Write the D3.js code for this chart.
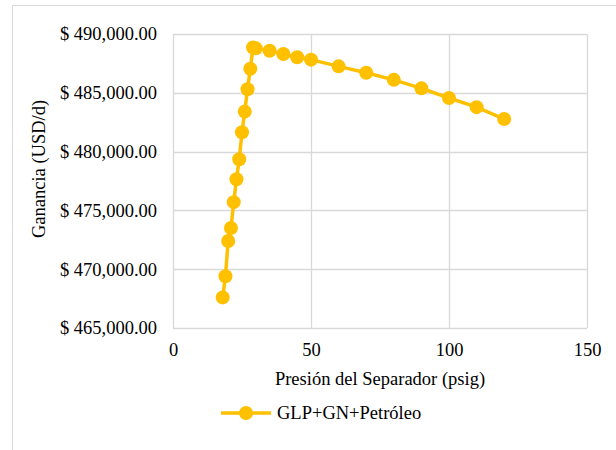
<!DOCTYPE html>
<html>
<head>
<meta charset="utf-8">
<script src="https://cdn.jsdelivr.net/npm/d3@7"></script>
<style>
  body { margin: 0; background: #fff; }
  svg { font-family: "Liberation Serif", "Times New Roman", serif; }
</style>
</head>
<body>
<svg width="616" height="450"></svg>
<script>
// data
const pressure = [18, 19, 20, 21, 22, 23, 24, 25, 26, 27, 28, 29, 30, 35, 40, 45, 50, 60, 70, 80, 90, 100, 110, 120]
const profit = [467600, 469400, 472400, 473500, 475700, 477650, 479350, 481650, 483400, 485300, 487050, 488850, 488780,
  488580, 488300, 488020, 487820, 487250, 486700, 486100, 485380, 484560, 483780, 482770]
const xTicks = [0, 50, 100, 150]
const yTicks = [465000, 470000, 475000, 480000, 485000, 490000]
const seriesName = "GLP+GN+Petróleo"

const svg = d3.select("svg")
const col = "#FFC000"
const grid = "#d9d9d9"

//chart border
svg.append("rect").attr("x", 12.5).attr("y", 5.5).attr("width", 620).attr("height", 460)
  .attr("fill", "none").attr("stroke", grid)

const L = 173, R = 587, T = 34, B = 328
const x = d3.scaleLinear().domain([0, 150]).range([L, R])
const y = d3.scaleLinear().domain([465000, 490000]).range([B, T])

//grid
let g = svg.append("g")
g.selectAll(".h").data(yTicks).enter().append("line")
  .attr("x1", L).attr("x2", R)
  .attr("y1", d => Math.round(y(d)) + .5).attr("y2", d => Math.round(y(d)) + .5)
  .attr("stroke", grid).attr("stroke-width", 1.3)
g.selectAll(".v").data(xTicks).enter().append("line")
  .attr("y1", T).attr("y2", B)
  .attr("x1", d => Math.round(x(d)) + .5).attr("x2", d => Math.round(x(d)) + .5)
  .attr("stroke", grid).attr("stroke-width", 1.3)

//axes (labels only, lines come from grid)
const fmt = d => "$ " + d3.format(",.2f")(d)
const yAxis = svg.append("g").attr("transform", `translate(${L},0)`)
  .call(d3.axisLeft(y).tickValues(yTicks).tickFormat(fmt).tickSize(0).tickPadding(16))
const xAxis = svg.append("g").attr("transform", `translate(0,${B})`)
  .call(d3.axisBottom(x).tickValues(xTicks).tickSize(0).tickPadding(15))
svg.selectAll(".domain").remove()
svg.selectAll(".tick text").attr("font-family", "Liberation Serif").attr("font-size", 18.5).attr("fill", "#000")

//titles
svg.append("text").attr("transform", "translate(45,169) rotate(-90)")
  .attr("text-anchor", "middle").attr("font-size", 18.5).text("Ganancia (USD/d)")
svg.append("text").attr("x", 380).attr("y", 385)
  .attr("text-anchor", "middle").attr("font-size", 18.5).text("Presión del Separador (psig)")

//series
const pts = pressure.map((p, i) => [p, profit[i]])
svg.append("path").datum(pts)
  .attr("d", d3.line().x(d => x(d[0])).y(d => y(d[1])))
  .attr("fill", "none").attr("stroke", col).attr("stroke-width", 3.5).attr("stroke-linejoin", "round")
svg.append("g").selectAll("circle").data(pts).enter().append("circle")
  .attr("cx", d => x(d[0])).attr("cy", d => y(d[1])).attr("r", 7).attr("fill", col)

//legend
let lg = svg.append("g")
lg.append("line").attr("x1", 221).attr("x2", 271).attr("y1", 413).attr("y2", 413)
  .attr("stroke", col).attr("stroke-width", 3.5)
lg.append("circle").attr("cx", 246).attr("cy", 413).attr("r", 7).attr("fill", col)
lg.append("text").attr("x", 277).attr("y", 419).attr("font-size", 18.5).text(seriesName)
</script>
</body>
</html>
